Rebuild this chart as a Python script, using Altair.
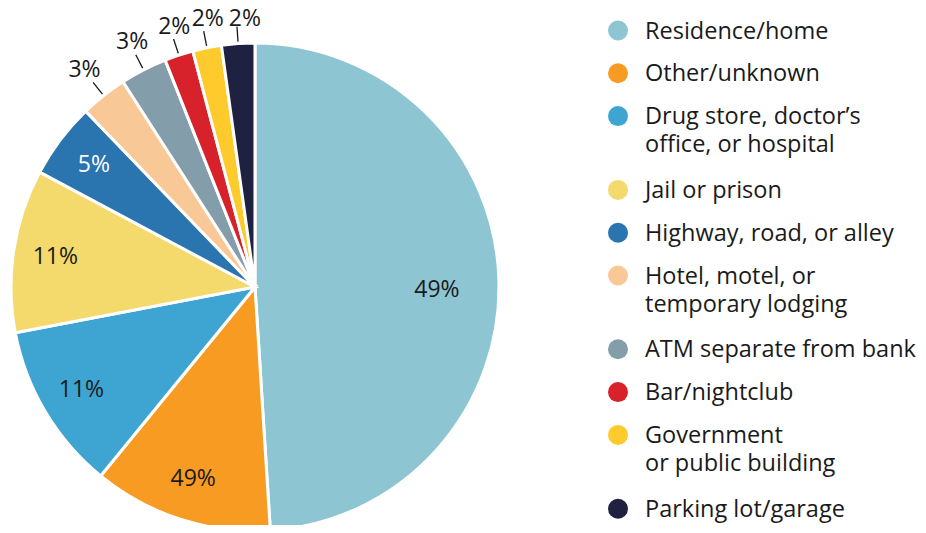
import altair as alt
import pandas as pd

categories = [
    "Residence/home",
    "Other/unknown",
    "Drug store, doctor’s\noffice, or hospital",
    "Jail or prison",
    "Highway, road, or alley",
    "Hotel, motel, or\ntemporary lodging",
    "ATM separate from bank",
    "Bar/nightclub",
    "Government\nor public building",
    "Parking lot/garage",
]
values = [49.0, 11.9, 11.1, 10.8, 5.0, 3.1, 3.1, 1.9, 1.9, 2.2]
labels = ["49%", "49%", "11%", "11%", "5%", "3%", "3%", "2%", "2%", "2%"]
colors = ["#8DC6D2", "#F79B22", "#3EA5D3", "#F4D96C", "#2A74B0",
          "#F9C897", "#849DAA", "#D7222C", "#FFCA2B", "#1E2140"]

df = pd.DataFrame({
    "category": categories,
    "value": values,
    "label": labels,
    "idx": list(range(len(categories))),
})

CX, CY, R = 247, 279, 244
FONT = "Open Sans"
INK = "#1a1a1a"

base = alt.Chart(df)
theta = alt.Theta("value:Q", stack=True)
order = alt.Order("idx:Q", sort="ascending")

pie = base.mark_arc(outerRadius=R, stroke="white", strokeWidth=3).encode(
    theta=theta,
    order=order,
    color=alt.Color("category:N", scale=alt.Scale(domain=categories, range=colors), legend=None),
    x=alt.value(CX),
    y=alt.value(CY),
)

big_lbl = base.transform_calculate(
    t="datum.value >= 40 ? datum.label : ''"
).mark_text(radius=182, dy=9, fontSize=23, font=FONT, baseline="middle", align="center").encode(
    theta=theta, order=order, text="t:N", color=alt.value(INK),
    x=alt.value(CX), y=alt.value(CY),
)

in_lbl = base.transform_calculate(
    t="datum.value >= 5 && datum.value < 40 ? datum.label : ''"
).mark_text(radius=202, fontSize=23, font=FONT, baseline="middle", align="center").encode(
    theta=theta, order=order, text="t:N",
    color=alt.condition(alt.datum.category == "Highway, road, or alley",
                        alt.value("white"), alt.value(INK)),
    x=alt.value(CX), y=alt.value(CY),
)

polar = base.transform_joinaggregate(
    total="sum(value)"
).transform_window(
    cum="sum(value)", sort=[alt.SortField("idx", order="ascending")], frame=[None, 0]
).transform_calculate(
    mid="(datum.cum - datum.value / 2) / datum.total * 2 * PI"
).transform_calculate(
    lx1=f"{CX} + 246 * sin(datum.mid)",
    ly1=f"{CY} - 246 * cos(datum.mid)",
    lx2=f"{CX} + 261 * sin(datum.mid)",
    ly2=f"{CY} - 261 * cos(datum.mid)",
).transform_calculate(
    tx="datum.lx2 + 10 + 30 * sin(datum.mid)",
    ty="max(datum.ly2 - 12.5, 10.5)",
).transform_filter("datum.value < 5")

leaders = polar.mark_rule(color=INK, strokeWidth=1.3).encode(
    x=alt.X("lx1:Q", scale=None),
    y=alt.Y("ly1:Q", scale=None),
    x2="lx2:Q",
    y2="ly2:Q",
)

out_lbl = polar.mark_text(fontSize=23, font=FONT, baseline="middle", align="center", color=INK).encode(
    x=alt.X("tx:Q", scale=None),
    y=alt.Y("ty:Q", scale=None),
    text="label:N",
)

leg_base = base.transform_calculate(
    lines="length(split(datum.category, '\\n'))"
).transform_calculate(
    step="42.8 + 31 * (datum.lines - 1)"
).transform_window(
    cumstep="sum(step)", sort=[alt.SortField("idx", order="ascending")], frame=[None, 0]
).transform_calculate(
    ly="22.5 + datum.cumstep - datum.step"
)

leg_sym = leg_base.mark_point(filled=True, shape="circle", size=400, opacity=1).encode(
    x=alt.value(610),
    y=alt.Y("ly:Q", scale=None),
    color=alt.Color("category:N", scale=alt.Scale(domain=categories, range=colors), legend=None),
)

leg_txt = leg_base.mark_text(
    align="left", baseline="alphabetic", dy=8, lineBreak="\n", lineHeight=28,
    fontSize=23.5, font=FONT, color=INK,
).encode(
    x=alt.value(637),
    y=alt.Y("ly:Q", scale=None),
    text="category:N",
)

chart = alt.layer(pie, big_lbl, in_lbl, leaders, out_lbl, leg_sym, leg_txt).properties(
    width=910, height=517, padding=0, autosize="none", background="white"
).configure_view(stroke=None)

chart.save("out.html", embed_options={"renderer": "svg", "actions": False})
